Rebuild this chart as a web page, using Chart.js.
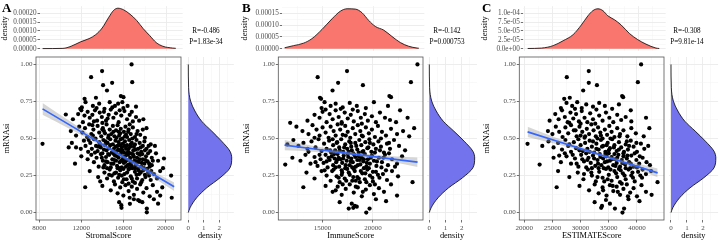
<!DOCTYPE html>
<html>
<head>
<meta charset="utf-8">
<script src="https://cdn.jsdelivr.net/npm/chart.js"></script>
<style>
body { margin: 0; background: #fff; }
#wrap { position: relative; width: 719px; height: 241px; overflow: hidden; }
#wrap canvas { position: absolute; }
.lbl { position: absolute; font-family: 'Liberation Serif', serif; color: #000; white-space: nowrap; }
.tag { font-weight: bold; font-size: 13px; line-height: 13px; }
.stat { font-size: 7.2px; line-height: 9px; width: 70px; text-align: center; }
</style>
</head>
<body>
<div id="wrap"></div>
<script>
// Matnlar
const panelTags = ['A', 'B', 'C'];
const xTitles = ['StromalScore', 'ImmuneScore', 'ESTIMATEScore'];
const rTexts = ['R=-0.486', 'R=-0.142', 'R=-0.308'];
const pTexts = ['P=1.83e-34', 'P=0.000753', 'P=9.81e-14'];

// O'q belgilari
const stromalTicks = [8000, 12000, 16000, 20000];
const immuneTicks = [15000, 20000];
const estimateTicks = [20000, 25000, 30000, 35000, 40000];
const mrnaTicks = [0, 0.25, 0.5, 0.75, 1];
const densTicks = [0, 1, 2];
const topTicksA = [0, 0.00005, 0.0001, 0.00015, 0.0002];
const topTicksB = [0, 0.00005, 0.0001, 0.00015];
const topTicksC = [0, 0.000025, 0.00005, 0.000075, 0.0001];

// Yuqori zichlik egri chiziqlari
const stromalDensX = [8310, 10220, 10990, 11910, 12680, 13300, 13910, 14530, 14990, 15390, 15920, 16530, 17150, 17760, 18380, 18990, 19610, 20540, 20830];
const stromalDensY = [0.0000005, 0.0000017, 0.0000138, 0.0000396, 0.0000569, 0.0000792, 0.000117, 0.0001774, 0.000217, 0.000229, 0.00022, 0.000195, 0.00016, 0.0001137, 0.000074, 0.0000345, 0.0000138, 0.0000034, 0.000002];
const immuneDensX = [11220, 12100, 13087, 13915, 14900, 15888, 16706, 17370, 18185, 18846, 19500, 20158, 20980, 21800, 22624, 23442, 24270, 24440];
const immuneDensY = [0.0000039, 0.0000129, 0.0000233, 0.0000426, 0.0000814, 0.0001266, 0.0001589, 0.0001693, 0.000168, 0.0001525, 0.00012, 0.0000943, 0.0000788, 0.0000517, 0.0000258, 0.0000103, 0.0000026, 0.000002];
const estimateDensX = [20590, 23030, 25060, 26800, 28550, 30010, 31160, 32030, 32910, 33780, 34650, 35820, 36980, 38430, 39880, 41340, 43090, 43670];
const estimateDensY = [0.0000005, 0.0000017, 0.0000086, 0.0000224, 0.0000396, 0.0000672, 0.000093, 0.0001076, 0.0001128, 0.0001076, 0.000093, 0.0000818, 0.0000672, 0.0000431, 0.0000258, 0.0000129, 0.0000017, 0.0000005];

// O'ng tomondagi zichlik (mRNAsi)
const mrnaDensY = [0.0, 0.032, 0.10, 0.167, 0.235, 0.302, 0.369, 0.414, 0.482, 0.55, 0.617, 0.685, 0.752, 0.843, 1.0];
const mrnaDensVal = [0.0, 0.11, 0.54, 1.19, 2.05, 2.69, 2.80, 2.69, 2.15, 1.51, 0.86, 0.43, 0.15, 0.02, 0.0];

// Regressiya chizig'i va ishonch oralig'i
const stromalFitX = [8310, 11000, 13500, 15300, 17500, 20830];
const stromalFit = [0.70, 0.587, 0.482, 0.406, 0.314, 0.174];
const stromalUp = [0.74, 0.613, 0.497, 0.418, 0.33, 0.203];
const stromalLo = [0.66, 0.561, 0.467, 0.394, 0.298, 0.145];
const immuneFitX = [11220, 14000, 17500, 19500, 22000, 24440];
const immuneFit = [0.455, 0.431, 0.400, 0.383, 0.361, 0.34];
const immuneUp = [0.49, 0.451, 0.412, 0.396, 0.381, 0.372];
const immuneLo = [0.42, 0.411, 0.388, 0.370, 0.341, 0.308];
const estimateFitX = [20590, 26000, 31000, 34000, 38000, 43670];
const estimateFit = [0.545, 0.48, 0.42, 0.384, 0.336, 0.268];
const estimateUp = [0.58, 0.50, 0.432, 0.395, 0.351, 0.298];
const estimateLo = [0.51, 0.46, 0.408, 0.373, 0.321, 0.238];

// Nuqtalar: [score, mRNAsi]
const stromalPts = [
  [16780,1.00],[13975,0.955],[12930,0.914],[14930,0.876],[16840,0.88],[14070,0.86],[14440,0.824],[15760,0.786],[16010,0.779],[12310,0.768],[13390,0.775],
  [11900,0.70],[12400,0.745],[13100,0.72],[13700,0.735],[14200,0.70],[14700,0.745],[15200,0.72],[15500,0.735],[16400,0.72],[16000,0.705],[12050,0.71],[14950,0.71],[13450,0.705],[15900,0.745],[17200,0.715],
  [10525,0.662],[11200,0.63],[11700,0.665],[12000,0.69],[12300,0.655],[12600,0.68],[12800,0.64],[13050,0.66],[13300,0.69],[13500,0.62],[13750,0.675],[13950,0.645],[14150,0.68],[14350,0.62],[14600,0.66],[14800,0.695],[15050,0.64],[15300,0.67],[15550,0.61],[15800,0.655],[16100,0.685],[16350,0.63],[16600,0.66],[16900,0.615],[17200,0.645],[17500,0.62],[17900,0.63],[12150,0.61],[14000,0.605],[15650,0.69],[16800,0.68],[13200,0.615],[14500,0.635],
  [11000,0.55],[11500,0.52],[11800,0.58],[12100,0.54],[12350,0.57],[12550,0.51],[12750,0.595],[12950,0.53],[13150,0.56],[13350,0.50],[13550,0.585],[13700,0.54],[13900,0.515],[14050,0.57],[14250,0.535],[14400,0.595],[14550,0.505],[14700,0.56],[14850,0.53],[15000,0.585],[15150,0.515],[15300,0.555],[15450,0.59],[15600,0.52],[15750,0.565],[15900,0.50],[16050,0.545],[16200,0.58],[16350,0.51],[16500,0.56],[16700,0.53],[16900,0.575],[17100,0.51],[17350,0.55],[17600,0.525],[17850,0.56],[18200,0.57],[18050,0.505],[13050,0.59],[14150,0.55],[15550,0.545],[16600,0.595],[16250,0.525],
  [10800,0.44],[11100,0.47],[11500,0.44],[11950,0.43],[12250,0.485],[12400,0.45],[12650,0.41],[12850,0.47],[13000,0.43],[13200,0.495],[13400,0.45],[13550,0.415],[13700,0.475],[13850,0.44],[14000,0.40],[14100,0.49],[14250,0.455],[14400,0.42],[14500,0.47],[14650,0.435],[14750,0.495],[14900,0.405],[15000,0.46],[15100,0.43],[15250,0.485],[15350,0.41],[15450,0.45],[15550,0.475],[15650,0.42],[15750,0.495],[15850,0.44],[15950,0.465],[16050,0.405],[16150,0.48],[16250,0.43],[16350,0.455],[16450,0.41],[16550,0.49],[16650,0.445],[16800,0.47],[16950,0.42],[17100,0.46],[17250,0.49],[17400,0.43],[17550,0.47],[17700,0.41],[17850,0.45],[18000,0.48],[18200,0.43],[18400,0.45],[18550,0.415],[19000,0.45],[14300,0.48],[15800,0.415],[17000,0.445],[16700,0.40],[13300,0.405],[8310,0.464],
  [11400,0.33],[12000,0.38],[12600,0.36],[12950,0.39],[13200,0.34],[13450,0.37],[13650,0.31],[13850,0.395],[14050,0.35],[14200,0.32],[14350,0.375],[14500,0.34],[14650,0.39],[14800,0.305],[14950,0.36],[15050,0.33],[15200,0.385],[15300,0.35],[15400,0.315],[15550,0.37],[15650,0.34],[15750,0.395],[15850,0.305],[15950,0.36],[16050,0.335],[16150,0.38],[16250,0.31],[16350,0.355],[16450,0.39],[16550,0.325],[16650,0.37],[16750,0.34],[16850,0.30],[16950,0.385],[17050,0.35],[17200,0.32],[17300,0.37],[17450,0.34],[17600,0.39],[17700,0.31],[17850,0.36],[18000,0.33],[18150,0.38],[18300,0.345],[18500,0.31],[18700,0.37],[19300,0.35],[19860,0.365],[15100,0.395],[16600,0.30],[17500,0.395],[14100,0.305],
  [12800,0.28],[13600,0.24],[13800,0.21],[14200,0.27],[14450,0.23],[14700,0.29],[14900,0.25],[15100,0.21],[15300,0.27],[15500,0.235],[15700,0.285],[15900,0.205],[16100,0.26],[16300,0.225],[16500,0.29],[16700,0.245],[16900,0.21],[17100,0.275],[17300,0.23],[17500,0.26],[17700,0.205],[17900,0.285],[18100,0.24],[18350,0.27],[18600,0.22],[18900,0.26],[19200,0.23],[19770,0.30],[20540,0.25],[16000,0.295],[15600,0.255],[17400,0.295],
  [12370,0.171],[14000,0.18],[14800,0.15],[15200,0.19],[15450,0.13],[15700,0.17],[16000,0.115],[16200,0.185],[16500,0.145],[16800,0.175],[17000,0.12],[17300,0.16],[17600,0.19],[17900,0.135],[18200,0.165],[18500,0.11],[18800,0.185],[19200,0.14],[19700,0.17],[20600,0.10],[19500,0.115],[16600,0.10],
  [15600,0.07],[15820,0.032],[15800,0.05],[16620,0.059],[17550,0.077],[17800,0.07],[17400,0.085],[18230,0.027],[18230,0.002],[18900,0.09],[19300,0.06],[17000,0.09],
  [14150,0.425],[14350,0.345],[14550,0.395],[14750,0.455],[14850,0.33],[15050,0.41],[15150,0.355],[15250,0.445],[15400,0.38],[15500,0.425],[15600,0.30],[15700,0.455],[15800,0.35],[15900,0.42],[16000,0.375],[16100,0.45],[16200,0.345],[16300,0.40],[16400,0.32],[16500,0.43],[16600,0.355],[16700,0.46],[16800,0.315],[16900,0.395],[17000,0.375],[17100,0.30],[17150,0.425],[17250,0.345],[17350,0.40],[17450,0.285],[17550,0.36],[17650,0.44],[17750,0.335],[17800,0.395],[17950,0.30],[18050,0.42],[18100,0.355],[18250,0.295],[18350,0.40],[18450,0.33],[18600,0.46],[18650,0.28],[18800,0.35],[19100,0.40],[15350,0.505],[15700,0.535],[16150,0.515],[16450,0.545],[16850,0.50],[17250,0.53],[14600,0.52],[15050,0.545],[13800,0.46],[13950,0.37],[14450,0.30],[15150,0.265],[15850,0.25],[16350,0.27],[16800,0.23],[17250,0.255],[17650,0.27],[18050,0.255],[18450,0.25],[16050,0.225],[15450,0.30],[14650,0.255],[16500,0.195],[17100,0.20],[17800,0.22],[18700,0.32],[19500,0.28],[14000,0.56],[13600,0.445],[13100,0.52],[12700,0.49]
];

const immunePts = [
  [24430,1.00],[17430,0.955],[14510,0.914],[16545,0.876],[23780,0.88],[19010,0.86],[15990,0.824],[21640,0.786],[21800,0.779],[14740,0.775],[14850,0.768],
  [15200,0.745],[15800,0.72],[16300,0.735],[17000,0.71],[17700,0.74],[18400,0.72],[19300,0.705],[20100,0.745],[21500,0.72],[14900,0.705],[16800,0.70],[22700,0.69],
  [11780,0.606],[13500,0.62],[14200,0.66],[14700,0.64],[15000,0.68],[15400,0.61],[15700,0.665],[16000,0.63],[16300,0.69],[16600,0.645],[16900,0.61],[17200,0.675],[17500,0.635],[17800,0.66],[18100,0.615],[18500,0.685],[18800,0.64],[19200,0.665],[19500,0.62],[19900,0.65],[20300,0.61],[20700,0.675],[21200,0.64],[21700,0.625],[23450,0.64],[15300,0.695],[18000,0.695],[22300,0.61],
  [12400,0.58],[13000,0.55],[13600,0.53],[14000,0.59],[14400,0.56],[14700,0.52],[15000,0.575],[15300,0.54],[15600,0.505],[15800,0.58],[16100,0.55],[16300,0.52],[16500,0.595],[16750,0.56],[17000,0.525],[17250,0.585],[17500,0.545],[17750,0.505],[18000,0.57],[18250,0.53],[18500,0.59],[18750,0.55],[19000,0.515],[19300,0.575],[19600,0.535],[19900,0.56],[20200,0.51],[20500,0.585],[20900,0.545],[21300,0.52],[21800,0.565],[22400,0.53],[23000,0.55],[23610,0.515],[24100,0.57],[16900,0.60],[18900,0.60],[14200,0.505],
  [11500,0.46],[12100,0.49],[12600,0.45],[13100,0.47],[13500,0.43],[13900,0.48],[14300,0.44],[14600,0.495],[14900,0.415],[15150,0.465],[15400,0.43],[15650,0.485],[15850,0.405],[16050,0.455],[16250,0.42],[16450,0.475],[16650,0.44],[16850,0.495],[17050,0.41],[17250,0.46],[17450,0.43],[17650,0.48],[17850,0.445],[18050,0.40],[18250,0.47],[18450,0.425],[18650,0.49],[18850,0.455],[19050,0.415],[19250,0.475],[19450,0.435],[19650,0.495],[19850,0.41],[20050,0.46],[20300,0.43],[20550,0.48],[20800,0.445],[21100,0.405],[21400,0.465],[21700,0.43],[22100,0.49],[22600,0.45],[23200,0.42],[16000,0.495],[17600,0.41],[18600,0.405],
  [11290,0.324],[12000,0.37],[12800,0.35],[13300,0.39],[13800,0.33],[14200,0.375],[14500,0.315],[14800,0.36],[15100,0.335],[15300,0.39],[15500,0.305],[15700,0.355],[15900,0.38],[16050,0.32],[16200,0.365],[16350,0.34],[16500,0.395],[16650,0.31],[16800,0.36],[16950,0.335],[17100,0.385],[17250,0.30],[17400,0.35],[17550,0.375],[17700,0.32],[17850,0.365],[18000,0.34],[18150,0.39],[18300,0.31],[18450,0.355],[18600,0.38],[18750,0.325],[18900,0.37],[19050,0.345],[19200,0.395],[19350,0.31],[19500,0.36],[19700,0.33],[19900,0.385],[20100,0.35],[20350,0.315],[20600,0.37],[20900,0.34],[21200,0.39],[21500,0.32],[21900,0.36],[22400,0.33],[22900,0.38],[16600,0.37],[17950,0.305],[15600,0.37],[19100,0.30],
  [13400,0.27],[14200,0.23],[14900,0.28],[15400,0.25],[15800,0.215],[16100,0.29],[16400,0.245],[16700,0.205],[16950,0.27],[17200,0.23],[17450,0.295],[17700,0.255],[17950,0.215],[18200,0.28],[18450,0.24],[18700,0.205],[18950,0.265],[19200,0.225],[19450,0.29],[19700,0.25],[20000,0.21],[20300,0.275],[20650,0.235],[21000,0.26],[21400,0.22],[21900,0.28],[22500,0.245],[23940,0.205],[16900,0.255],[18300,0.215],
  [13090,0.171],[15300,0.18],[16000,0.14],[16500,0.175],[16900,0.12],[17300,0.16],[17700,0.19],[18100,0.135],[18500,0.17],[18900,0.11],[19300,0.155],[19700,0.185],[20100,0.125],[20600,0.165],[21100,0.14],[21800,0.19],[22400,0.115],
  [16700,0.07],[17600,0.027],[18050,0.032],[18200,0.045],[18400,0.04],[19340,0.00],[19670,0.027],[21310,0.077],[17900,0.06],[20300,0.09],
  [16150,0.395],[16300,0.305],[16450,0.355],[16700,0.42],[16900,0.285],[17050,0.365],[17150,0.44],[17300,0.32],[17500,0.395],[17600,0.27],[17800,0.345],[17900,0.42],[18100,0.295],[18250,0.375],[18350,0.45],[18500,0.32],[18700,0.355],[18800,0.28],[18950,0.41],[19100,0.36],[19250,0.265],[19400,0.335],[19550,0.44],[19600,0.30],[19800,0.37],[20000,0.275],[20200,0.405],[20400,0.345],[20500,0.255],[20700,0.42],[20850,0.305],[21050,0.37],[21300,0.285],[21600,0.40],[15400,0.345],[15750,0.42],[15950,0.28],[16600,0.235],[17350,0.215],[18050,0.24],[18600,0.23],[19350,0.205],[19950,0.235],[17000,0.19],[18300,0.175],[17800,0.47],[18900,0.52],[19700,0.47],[16400,0.47],[17300,0.52],[14700,0.39],[14300,0.34],[13600,0.41],[20800,0.50],[21600,0.47],[15200,0.285],[22200,0.31],[19000,0.14],[16300,0.15],[20200,0.19]
];

const estimatePts = [
  [40740,1.00],[31450,0.955],[27550,0.914],[31450,0.876],[40160,0.88],[32900,0.86],[30460,0.824],[37370,0.786],[37550,0.779],[28080,0.775],[27090,0.768],
  [26500,0.705],[27500,0.74],[28500,0.72],[29400,0.745],[30200,0.705],[31000,0.73],[32200,0.715],[33300,0.74],[34300,0.72],[35600,0.70],[36800,0.73],[29000,0.70],[38900,0.69],
  [24500,0.62],[25500,0.665],[26100,0.63],[26700,0.69],[27200,0.645],[27700,0.61],[28200,0.675],[28700,0.635],[29200,0.665],[29700,0.615],[30200,0.685],[30700,0.64],[31200,0.61],[31700,0.67],[32200,0.63],[32800,0.695],[33300,0.655],[33900,0.62],[34500,0.675],[35100,0.64],[35800,0.61],[36500,0.66],[37200,0.625],[38000,0.645],[41610,0.64],[39000,0.615],[30000,0.60],[28000,0.605],
  [24200,0.55],[25000,0.53],[25600,0.58],[26200,0.545],[26800,0.51],[27300,0.575],[27800,0.535],[28300,0.59],[28800,0.555],[29300,0.515],[29800,0.58],[30300,0.545],[30700,0.505],[31100,0.565],[31500,0.53],[31900,0.595],[32300,0.555],[32700,0.515],[33100,0.575],[33500,0.54],[33900,0.50],[34300,0.56],[34700,0.525],[35100,0.585],[35500,0.545],[36000,0.51],[36500,0.57],[37000,0.53],[37600,0.555],[38300,0.515],[39000,0.57],[39800,0.535],[42200,0.57],[41200,0.515],[30000,0.52],[32600,0.60],
  [20580,0.464],[23200,0.45],[24300,0.48],[25200,0.44],[26000,0.47],[26700,0.425],[27300,0.49],[27800,0.45],[28300,0.41],[28800,0.475],[29200,0.435],[29600,0.495],[30000,0.455],[30400,0.415],[30800,0.47],[31200,0.43],[31600,0.485],[32000,0.445],[32400,0.405],[32800,0.465],[33200,0.425],[33600,0.49],[34000,0.45],[34400,0.41],[34800,0.47],[35200,0.435],[35600,0.495],[36000,0.455],[36400,0.415],[36800,0.475],[37200,0.44],[37600,0.40],[38000,0.46],[38400,0.425],[38900,0.485],[39400,0.445],[40000,0.41],[40700,0.465],[41300,0.43],[42000,0.45],[33000,0.50],[35000,0.40],[31000,0.40],
  [22730,0.324],[25200,0.37],[26500,0.34],[27500,0.38],[28300,0.33],[29000,0.365],[29600,0.31],[30100,0.39],[30600,0.345],[31000,0.305],[31400,0.37],[31800,0.335],[32200,0.385],[32600,0.315],[33000,0.355],[33400,0.395],[33700,0.32],[34000,0.365],[34300,0.34],[34600,0.38],[34900,0.305],[35200,0.35],[35500,0.375],[35800,0.32],[36100,0.36],[36400,0.335],[36700,0.39],[37000,0.31],[37300,0.355],[37600,0.38],[37900,0.325],[38200,0.365],[38600,0.34],[39000,0.385],[39400,0.31],[39900,0.355],[40400,0.33],[41000,0.37],[41700,0.34],[33200,0.30],[36000,0.395],[38800,0.30],
  [26000,0.28],[28000,0.24],[29500,0.27],[30500,0.225],[31300,0.29],[32000,0.25],[32700,0.21],[33300,0.275],[33900,0.235],[34500,0.295],[35000,0.255],[35500,0.215],[36000,0.28],[36500,0.24],[37000,0.205],[37500,0.265],[38000,0.225],[38500,0.29],[39000,0.25],[39600,0.21],[40200,0.275],[40900,0.235],[41600,0.26],[42500,0.28],[43650,0.205],[34200,0.21],[36800,0.295],
  [25750,0.171],[29800,0.18],[31500,0.15],[32500,0.19],[33200,0.13],[33900,0.17],[34600,0.115],[35200,0.185],[35800,0.145],[36400,0.175],[37000,0.12],[37600,0.16],[38200,0.19],[38800,0.135],[39400,0.165],[40000,0.11],[40800,0.185],[41600,0.14],[42600,0.12],
  [32490,0.07],[33650,0.032],[33800,0.045],[35200,0.06],[36090,0.027],[37430,0.00],[37720,0.027],[40450,0.077],[34500,0.085],[38500,0.09],
  [31200,0.355],[31600,0.41],[32000,0.30],[32400,0.365],[32800,0.43],[33100,0.33],[33500,0.375],[33800,0.445],[34100,0.30],[34400,0.395],[34700,0.345],[35000,0.42],[35300,0.29],[35600,0.36],[35900,0.44],[36200,0.315],[36500,0.37],[36800,0.425],[37100,0.285],[37400,0.335],[37700,0.41],[38000,0.30],[38300,0.385],[38600,0.45],[38900,0.33],[39200,0.27],[39600,0.40],[40000,0.305],[40500,0.38],[41000,0.29],[30300,0.36],[29800,0.42],[29300,0.33],[28600,0.39],[28000,0.46],[33000,0.24],[34800,0.225],[36300,0.265],[37800,0.25],[39300,0.235],[35700,0.18],[37300,0.195],[33600,0.52],[35300,0.50],[36900,0.515],[32200,0.48],[34600,0.455],[38200,0.48],[30800,0.515],[27200,0.40],[26200,0.385],[31900,0.27],[40600,0.25],[39900,0.47],[29100,0.555],[30600,0.26],[42300,0.32],[36600,0.14],[34000,0.15],[38400,0.11]
];

// Joylashuv (piksel)
const panels = [
  { ox: 0, mainL: 36, mainR: 182.7, xMin: 7690, xMax: 21480, rdZero: 188.3, rdUnit: 15.5, statX: 206,
    ticks: stromalTicks, pts: stromalPts, fx: stromalFitX, fit: stromalFit, up: stromalUp, lo: stromalLo,
    dx: stromalDensX, dy: stromalDensY, topTicks: topTicksA, topMin: -0.00001137, topMax: 0.00024031, topFmt: v => v.toFixed(5) },
  { ox: 240, mainL: 278.3, mainR: 424.3, xMin: 10600, xMax: 24980, rdZero: 429.3, rdUnit: 16.2, statX: 447,
    ticks: immuneTicks, pts: immunePts, fx: immuneFitX, fit: immuneFit, up: immuneUp, lo: immuneLo,
    dx: immuneDensX, dy: immuneDensY, topTicks: topTicksB, topMin: -0.00000853, topMax: 0.00018023, topFmt: v => v.toFixed(5) },
  { ox: 480, mainL: 519.3, mainR: 665.7, xMin: 19120, xMax: 44800, rdZero: 671, rdUnit: 16, statX: 687,
    ticks: estimateTicks, pts: estimatePts, fx: estimateFitX, fit: estimateFit, up: estimateUp, lo: estimateLo,
    dx: estimateDensX, dy: estimateDensY, topTicks: topTicksC, topMin: -0.00000568, topMax: 0.00012016,
    topFmt: v => v.toExponential(1).replace(/e([+-])(\d)$/, 'e$10$2') }
];

Chart.defaults.font.family = "'Liberation Serif', serif";
Chart.defaults.animation = false;
Chart.defaults.events = [];
Chart.defaults.plugins.legend.display = false;
Chart.defaults.plugins.tooltip.enabled = false;

const wrap = document.getElementById('wrap');
const GRID = '#ebebeb';
const TICKC = '#333333';

function minorsOf(majors, min, max) {
  const step = majors[1] - majors[0];
  const out = [];
  for (let v = majors[0] - step * 1.5; v <= max; v += step) {
    const m = Math.round(v * 1e9) / 1e9;
    if (m >= min && m <= max && !majors.includes(m)) out.push(m);
  }
  return out;
}

function makeCanvas(left, top, w, h) {
  const c = document.createElement('canvas');
  c.width = w; c.height = h;
  c.style.left = left + 'px'; c.style.top = top + 'px';
  c.style.width = w + 'px'; c.style.height = h + 'px';
  wrap.appendChild(c);
  return c.getContext('2d');
}

function addLabel(text, cls, left, top) {
  const d = document.createElement('div');
  d.className = 'lbl ' + cls;
  d.textContent = text;
  d.style.left = left + 'px'; d.style.top = top + 'px';
  wrap.appendChild(d);
}

// ggplot uslubidagi o'q
function axis(o) {
  const majors = o.majors.filter(v => v >= o.min && v <= o.max);
  const all = majors.concat(minorsOf(o.majors, o.min, o.max)).sort((a, b) => a - b);
  const isMajor = v => majors.includes(v);
  return {
    type: 'linear', min: o.min, max: o.max, position: o.position,
    afterBuildTicks: s => { s.ticks = all.map(v => ({ value: v })); },
    afterFit: s => { if (o.horizontal) s.height = o.size; else s.width = o.size; },
    grid: {
      color: c => (c.tick && isMajor(c.tick.value)) ? GRID : '#f3f3f3',
      lineWidth: c => (c.tick && isMajor(c.tick.value)) ? 0.9 : 0.5,
      drawTicks: !!o.drawTicks,
      tickLength: 2.5,
      tickWidth: 0.7,
      tickColor: c => (c.tick && isMajor(c.tick.value)) ? TICKC : 'rgba(0,0,0,0)'
    },
    border: { display: false },
    ticks: {
      display: !!o.fmt, autoSkip: false, maxRotation: 0, minRotation: 0,
      padding: 1, color: '#4d4d4d', font: { size: o.fontSize || 7 },
      callback: v => (o.fmt && isMajor(v)) ? o.fmt(v) : ''
    },
    title: o.title ? { display: true, text: o.title, color: '#000', font: { size: 8.4 }, padding: { top: o.titlePad || 0, bottom: 0 } } : { display: false }
  };
}

// panel chegarasi
const frame = {
  id: 'frame',
  afterDraw(chart) {
    const a = chart.chartArea, ctx = chart.ctx;
    ctx.save();
    ctx.strokeStyle = '#555';
    ctx.lineWidth = 0.8;
    ctx.strokeRect(a.left, a.top, a.right - a.left, a.bottom - a.top);
    ctx.restore();
  }
};

panels.forEach((p, i) => {
  const mainW = Math.ceil(p.mainR - p.ox + 2);

  // asosiy scatter
  new Chart(makeCanvas(p.ox, 50, mainW, 191), {
    type: 'scatter',
    data: {
      datasets: [
        { type: 'line', data: p.fx.map((x, k) => ({ x, y: p.fit[k] })), borderColor: '#3366FF', borderWidth: 1.7, pointRadius: 0, fill: false },
        { type: 'line', data: p.fx.map((x, k) => ({ x, y: p.up[k] })), borderWidth: 0, pointRadius: 0, cubicInterpolationMode: 'monotone', fill: '+1', backgroundColor: 'rgba(153,153,153,0.4)' },
        { type: 'line', data: p.fx.map((x, k) => ({ x, y: p.lo[k] })), borderWidth: 0, pointRadius: 0, cubicInterpolationMode: 'monotone', fill: false },
        { data: p.pts.map(d => ({ x: d[0], y: d[1] })), pointRadius: 2.1, backgroundColor: '#000', borderWidth: 0 }
      ]
    },
    options: {
      responsive: false,
      layout: { padding: { left: 0, top: 7, right: mainW - (p.mainR - p.ox), bottom: 0 } },
      scales: {
        x: axis({ min: p.xMin, max: p.xMax, majors: p.ticks, horizontal: true, size: 21, drawTicks: true, fmt: v => String(v), title: xTitles[i], position: 'bottom' }),
        y: axis({ min: -0.05, max: 1.05, majors: mrnaTicks, size: p.mainL - p.ox, drawTicks: true, fmt: v => v.toFixed(2), title: 'mRNAsi', titlePad: 2, position: 'left' })
      }
    },
    plugins: [frame]
  });

  // yuqori zichlik
  const shift = 4;
  const topXMin = p.xMin + (p.xMax - p.xMin) * shift / (p.mainR - p.mainL);
  new Chart(makeCanvas(p.ox, 0, mainW, 56), {
    type: 'scatter',
    data: {
      datasets: [{ type: 'line', data: p.dx.map((x, k) => ({ x, y: p.dy[k] })), borderColor: '#000', borderWidth: 0.8, pointRadius: 0,
        cubicInterpolationMode: 'monotone', fill: 'origin', backgroundColor: '#F8766D' }]
    },
    options: {
      responsive: false,
      layout: { padding: { left: 0, top: 6.2, right: mainW - (p.mainR - p.ox), bottom: 1.1 } },
      scales: {
        x: axis({ min: topXMin, max: p.xMax, majors: p.ticks, horizontal: true, size: 0, drawTicks: false, position: 'bottom' }),
        y: axis({ min: p.topMin, max: p.topMax, majors: p.topTicks, size: p.mainL + shift - p.ox, drawTicks: true, fmt: p.topFmt, fontSize: 7.2, title: 'density', position: 'left' })
      }
    }
  });

  // o'ng zichlik
  const rdL = p.rdZero - 0.14 * p.rdUnit;
  const rdR = p.rdZero + 2.94 * p.rdUnit;
  const cl = Math.floor(rdL) - 1;
  const cw = Math.min(Math.ceil(rdR) - cl + 1, 719 - cl);
  new Chart(makeCanvas(cl, 50, cw, 191), {
    type: 'line',
    data: {
      datasets: [{ data: mrnaDensY.map((y, k) => ({ x: mrnaDensVal[k], y })), borderColor: '#000', borderWidth: 0.8, pointRadius: 0,
        cubicInterpolationMode: 'monotone', fill: 'origin', backgroundColor: '#7373EE' }]
    },
    options: {
      responsive: false,
      indexAxis: 'y',
      layout: { padding: { left: rdL - cl, top: 7, right: Math.max(cw - (rdR - cl), 0), bottom: 0 } },
      scales: {
        x: axis({ min: -0.14, max: 2.94, majors: densTicks, horizontal: true, size: 21, drawTicks: true, fmt: v => String(v), title: 'density', position: 'bottom' }),
        y: axis({ min: -0.05, max: 1.05, majors: mrnaTicks, size: 0, drawTicks: false, position: 'left' })
      }
    }
  });

  // matnlar
  addLabel(panelTags[i], 'tag', p.ox + 2, 1);
  addLabel(rTexts[i], 'stat', p.statX - 35, 27.2);
  addLabel(pTexts[i], 'stat', p.statX - 35, 38.2);
});
</script>
</body>
</html>
